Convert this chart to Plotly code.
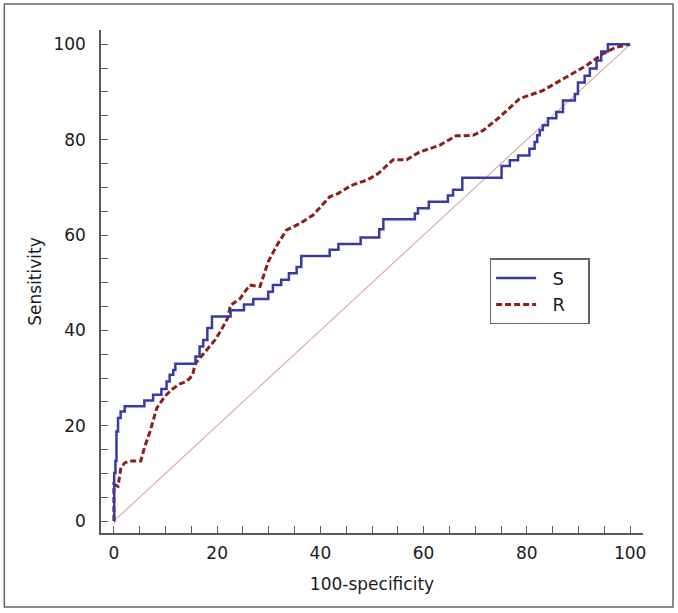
import plotly.graph_objects as go

# S curve: step ROC (x = 100-specificity, y = sensitivity)
s_x = [0, 0.06, 0.3, 0.5, 0.8, 1.3, 2.1, 5.9, 7.6, 9.2, 10.2, 10.8, 11.5, 11.9,
       15.8, 16.6, 17.3, 18.1, 19.0, 22.6, 25.2, 27.0, 29.9, 30.8, 32.4, 33.9,
       35.4, 36.3, 41.8, 43.5, 47.8, 51.4, 52.2, 58.3, 58.9, 61.0, 64.7, 65.7,
       67.5, 75.1, 76.7, 78.3, 80.5, 81.5, 82.0, 82.5, 83.1, 84.1, 85.7, 87.0,
       89.3, 89.9, 91.2, 92.2, 93.5, 94.4, 95.7, 100]
s_y = [0, 10.1, 12.6, 18.8, 21.6, 23.0, 24.1, 25.3, 26.5, 27.7, 29.3, 30.7, 31.7, 33.0,
       34.5, 36.6, 38.0, 40.5, 42.9, 44.2, 45.4, 46.6, 48.1, 49.5, 50.6, 52.0,
       53.3, 55.6, 56.9, 58.1, 59.5, 61.2, 63.3, 64.5, 65.6, 67.0, 68.3, 69.5,
       72.0, 74.5, 75.7, 76.7, 78.1, 79.5, 80.9, 82.0, 83.0, 84.5, 85.8, 88.2,
       89.6, 92.0, 93.4, 94.9, 96.6, 98.5, 100, 100]

# R curve
r_x = [0, 0, 0.8, 1.35, 2.1, 3.1, 5.2, 6.0, 7.0, 8.3, 9.9, 11.2, 12.8, 14.1, 15.2,
       15.8, 17.6, 19.6, 20.8, 22.0, 22.6, 24.4, 26.3, 28.3, 29.9, 31.5, 33.4,
       36.0, 38.6, 41.8, 43.4, 46.0, 49.2, 51.2, 54.1, 56.7, 59.2, 63.1, 66.3,
       69.6, 71.5, 74.7, 78.6, 83.1, 87.6, 91.5, 94.7, 97.3, 100]
r_y = [0, 7.7, 7.3, 11.2, 12.2, 12.6, 12.6, 15.7, 18.8, 23.7, 26.2, 27.6, 28.8, 29.3, 30.5,
       33.1, 35.4, 38.0, 40.1, 42.5, 45.3, 46.6, 49.5, 49.2, 54.4, 57.7, 61.0,
       62.4, 64.2, 68.0, 68.7, 70.4, 71.6, 72.9, 75.8, 75.8, 77.4, 78.8, 80.8,
       80.9, 81.9, 84.7, 88.6, 90.3, 93.1, 95.5, 98.0, 99.4, 100]

ref_x = [0, 100]
ref_y = [0, 100]

x_ticks = [0, 20, 40, 60, 80, 100]
y_ticks = [0, 20, 40, 60, 80, 100]

series_names = ["S", "R"]

FONT = "DejaVu Sans"
AXC = "#5a5a5a"
TXT = "#1a1a1a"
NB = "\u00a0"

fig = go.Figure()
fig.add_trace(go.Scatter(x=ref_x, y=ref_y, mode="lines", showlegend=False,
                         line=dict(color="#dea59e", width=1.1), hoverinfo="skip"))
fig.add_trace(go.Scatter(x=r_x, y=r_y, mode="lines", name=NB * 2 + series_names[1] + NB * 3,
                         line=dict(color="#8b1e1e", width=3, dash="6px,3px")))
fig.add_trace(go.Scatter(x=s_x, y=s_y, mode="lines", name=NB * 2 + series_names[0] + NB * 3,
                         line_shape="hv", line=dict(color="#3a3aa6", width=2.5)))

axis_common = dict(
    showgrid=False, zeroline=False, showline=True, linecolor=AXC, linewidth=1.5,
    ticks="inside", ticklen=7, tickwidth=1, tickcolor=AXC,
    tickfont=dict(family=FONT, size=17, color=TXT),
    minor=dict(ticks="inside", ticklen=7, dtick=5, tick0=0, tickcolor=AXC, tickwidth=1),
    automargin=False,
)

fig.update_xaxes(range=[-2.5, 102.5], tickvals=x_ticks, ticklabelstandoff=4, **axis_common,
                 title=dict(text="100-specificity", font=dict(family=FONT, size=17, color=TXT), standoff=16))
fig.update_yaxes(range=[-2.5, 103], tickvals=y_ticks, ticklabelstandoff=10, **axis_common,
                 title=dict(text="Sensitivity", font=dict(family=FONT, size=17, color=TXT), standoff=7))

# outer frame
fig.add_shape(type="rect", xref="paper", yref="paper",
              x0=-0.1784, x1=1.0554, y0=-0.1471, y1=1.0517,
              line=dict(color="#666", width=1.5))

fig.update_layout(
    width=678, height=613,
    margin=dict(l=101, r=35, t=30, b=80),
    paper_bgcolor="white", plot_bgcolor="white",
    font=dict(family=FONT),
    legend=dict(x=0.717, y=0.546, xanchor="left", yanchor="top",
                bordercolor="#666", borderwidth=1.5, bgcolor="white",
                font=dict(family=FONT, size=18, color=TXT),
                traceorder="reversed", itemwidth=40),
)

fig.write_html("out.html", config={"displayModeBar": False},
               post_script="document.body.style.margin='0';")
